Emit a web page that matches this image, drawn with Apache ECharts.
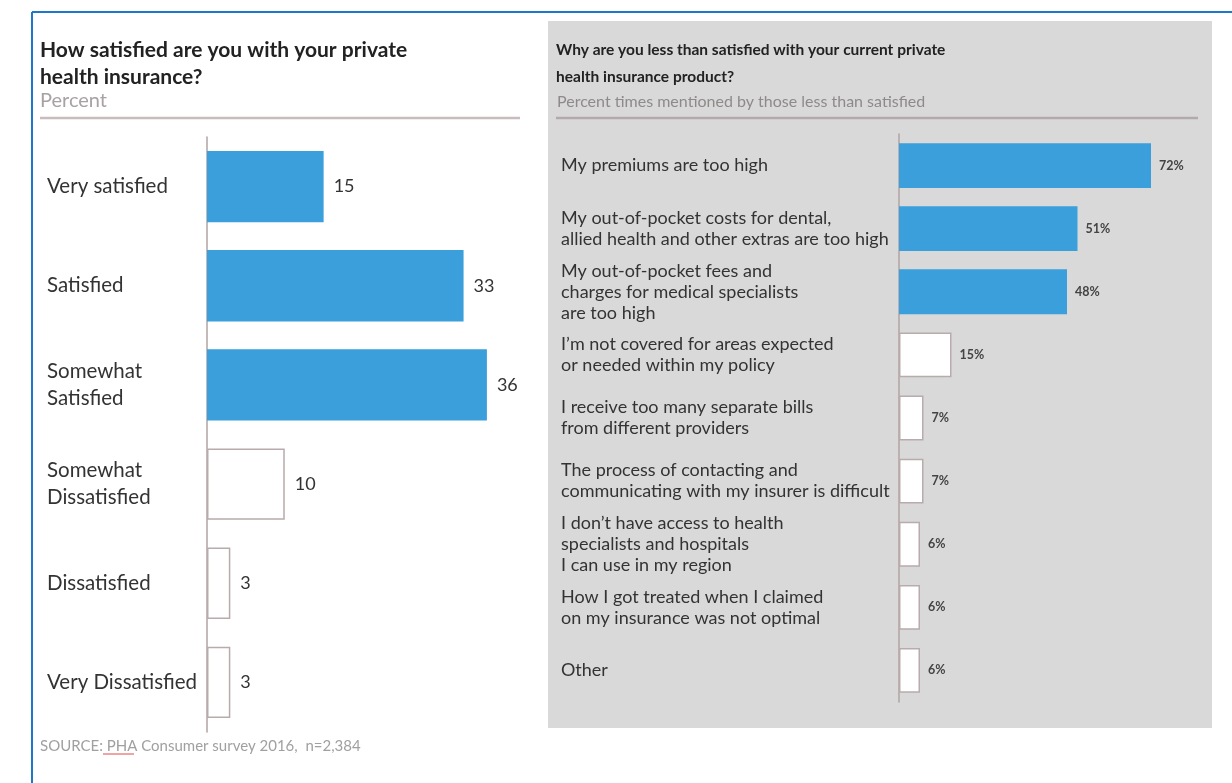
<!DOCTYPE html>
<html>
<head>
<meta charset="utf-8">
<script src="https://cdn.jsdelivr.net/npm/echarts@6/dist/echarts.min.js"></script>
<style>
  html, body { margin: 0; padding: 0; background: #fff; }
  #chart { width: 1232px; height: 783px; }
</style>
</head>
<body>
<div id="chart"></div>
<script>
// left panel: satisfaction levels (percent)
var satisfactionLevels = [
  'Very satisfied',
  'Satisfied',
  'Somewhat\nSatisfied',
  'Somewhat\nDissatisfied',
  'Dissatisfied',
  'Very Dissatisfied'
]
var satisfactionValues = [15, 33, 36, 10, 3, 3]

// right panel: reasons for dissatisfaction (percent times mentioned)
var reasonLabels = [
  'My premiums are too high',
  'My out-of-pocket costs for dental,\nallied health and other extras are too high',
  'My out-of-pocket fees and\ncharges for medical specialists\nare too high',
  'I\u2019m not covered for areas expected\nor needed within my policy',
  'I receive too many separate bills\nfrom different providers',
  'The process of contacting and\ncommunicating with my insurer is difficult',
  'I don\u2019t have access to health\nspecialists and hospitals\nI can use in my region',
  'How I got treated when I claimed\non my insurance was not optimal',
  'Other'
]
var reasonValues = [72, 51, 48, 15, 7, 7, 6, 6, 6]

// how many of the top bars are drawn filled, the rest are outlined
var filledLevels = 3
var filledReasons = 3

var FONT = 'Lato, "Open Sans", sans-serif'
var BLUE = '#3a9fdb'
var AXIS = '#b0a3a3'

function barData(values, filledCount) {
  return values.map(function (v, i) {
    if (i < filledCount) {
      return { value: v, itemStyle: { color: BLUE } }
    }
    return { value: v, itemStyle: { color: '#ffffff', borderColor: '#b9abab', borderWidth: 1.5 } }
  })
}

var chart = echarts.init(document.getElementById('chart'))

var option = {
  animation: false,
  backgroundColor: '#ffffff',
  graphic: [
    // grey panel behind the right chart
    { type: 'rect', z: -10, shape: { x: 548, y: 21, width: 664, height: 707 }, style: { fill: '#d9d9d9' } },
    // blue frame
    { type: 'line', shape: { x1: 32, y1: 12, x2: 1232, y2: 12 }, style: { stroke: '#1f77c7', lineWidth: 2 } },
    { type: 'line', shape: { x1: 32, y1: 12, x2: 32, y2: 783 }, style: { stroke: '#1f77c7', lineWidth: 2 } },
    // title underlines
    { type: 'line', shape: { x1: 40, y1: 118, x2: 520, y2: 118 }, style: { stroke: '#c9bcbc', lineWidth: 2.5 } },
    { type: 'line', shape: { x1: 556, y1: 118, x2: 1198, y2: 118 }, style: { stroke: '#b2aaaa', lineWidth: 2.5 } },
    // spellcheck underline in the source note
    { type: 'line', shape: { x1: 103, y1: 754, x2: 134, y2: 754 }, style: { stroke: '#e04848', lineWidth: 1 } }
  ],
  title: [
    {
      text: 'How satisfied are you with your private\nhealth insurance?',
      left: 40, top: 37, padding: 0,
      textStyle: { fontFamily: FONT, fontSize: 21, fontWeight: 'bold', color: '#222', lineHeight: 27 }
    },
    {
      text: 'Percent',
      left: 40, top: 91, padding: 0,
      textStyle: { fontFamily: FONT, fontSize: 20, fontWeight: 'normal', color: '#a8a2a2', lineHeight: 20 }
    },
    {
      text: 'Why are you less than satisfied with your current private\nhealth insurance product?',
      left: 556, top: 36, padding: 0,
      textStyle: { fontFamily: FONT, fontSize: 15.5, fontWeight: 'bold', color: '#222', lineHeight: 27 }
    },
    {
      text: 'Percent times mentioned by those less than satisfied',
      left: 557, top: 93, padding: 0,
      textStyle: { fontFamily: FONT, fontSize: 16, fontWeight: 'normal', color: '#8f8a8a', lineHeight: 18 }
    },
    {
      text: 'SOURCE: PHA Consumer survey 2016,  n=2,384',
      left: 40, top: 738, padding: 0,
      textStyle: { fontFamily: FONT, fontSize: 15, fontWeight: 'normal', color: '#a0a0a0', lineHeight: 16 }
    }
  ],
  grid: [
    { left: 207, top: 137, width: 311, height: 595 },
    { left: 899, top: 134, width: 280, height: 568 }
  ],
  xAxis: [
    { gridIndex: 0, type: 'value', min: 0, max: 40, show: false },
    { gridIndex: 1, type: 'value', min: 0, max: 80, show: false }
  ],
  yAxis: [
    {
      gridIndex: 0,
      type: 'category',
      inverse: true,
      data: satisfactionLevels,
      axisLine: { lineStyle: { color: AXIS, width: 1.5 } },
      axisTick: { show: false },
      axisLabel: { align: 'left', margin: 160, fontFamily: FONT, fontSize: 20.5, color: '#333', lineHeight: 27 }
    },
    {
      gridIndex: 1,
      type: 'category',
      inverse: true,
      data: reasonLabels,
      axisLine: { lineStyle: { color: AXIS, width: 1.5 } },
      axisTick: { show: false },
      axisLabel: { align: 'left', margin: 338, fontFamily: FONT, fontSize: 18, color: '#333', lineHeight: 21 }
    }
  ],
  series: [
    {
      type: 'bar',
      xAxisIndex: 0,
      yAxisIndex: 0,
      barWidth: '72%',
      data: barData(satisfactionValues, filledLevels),
      label: { show: true, position: 'right', distance: 10, fontFamily: FONT, fontSize: 18, color: '#333' }
    },
    {
      type: 'bar',
      xAxisIndex: 1,
      yAxisIndex: 1,
      barWidth: '71%',
      data: barData(reasonValues, filledReasons),
      label: { show: true, position: 'right', distance: 8, formatter: '{c}%', fontFamily: FONT, fontSize: 12.5, fontWeight: 'bold', color: '#444' }
    }
  ]
}

chart.setOption(option)
</script>
</body>
</html>
